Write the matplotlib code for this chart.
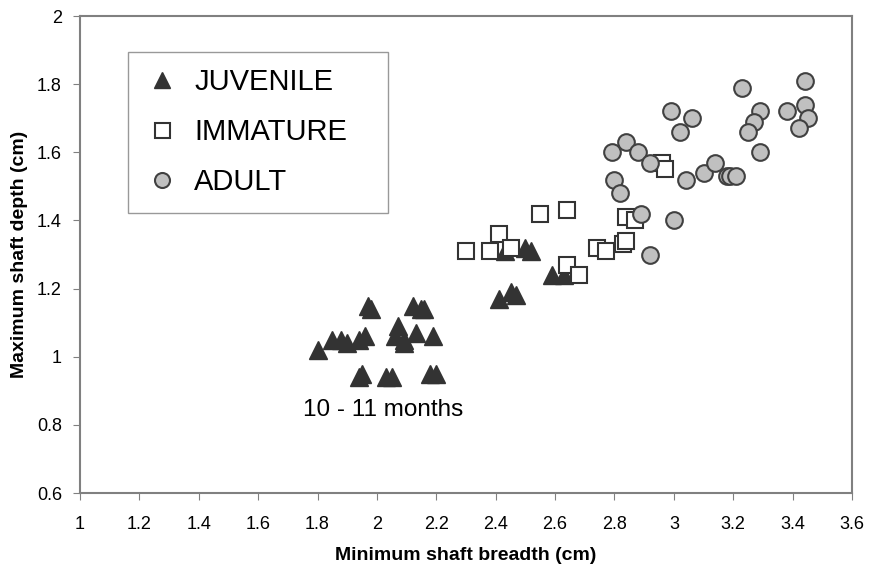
import matplotlib.pyplot as plt

plt.rcParams['font.family'] = ['Liberation Sans', 'DejaVu Sans']

# juvenile
juv_x = [1.80, 1.85, 1.88, 1.90, 1.94, 1.96, 1.97, 1.98, 2.06, 2.07, 2.09, 2.09,
         2.12, 2.13, 2.15, 2.16, 2.19, 1.94, 1.95, 2.03, 2.05, 2.18, 2.20,
         2.43, 2.50, 2.52, 2.59, 2.63, 2.41, 2.45, 2.47]
juv_y = [1.02, 1.05, 1.05, 1.04, 1.05, 1.06, 1.15, 1.14, 1.06, 1.09, 1.05, 1.04,
         1.15, 1.07, 1.14, 1.14, 1.06, 0.94, 0.95, 0.94, 0.94, 0.95, 0.95,
         1.31, 1.32, 1.31, 1.24, 1.24, 1.17, 1.19, 1.18]

# immature
imm_x = [2.30, 2.38, 2.41, 2.45, 2.55, 2.64, 2.64, 2.68, 2.74, 2.77, 2.83, 2.84,
         2.84, 2.87, 2.96, 2.97]
imm_y = [1.31, 1.31, 1.36, 1.32, 1.42, 1.43, 1.27, 1.24, 1.32, 1.31, 1.33, 1.34,
         1.41, 1.40, 1.57, 1.55]

# adult
ad_x = [3.23, 3.44, 2.99, 3.06, 3.02, 3.29, 3.27, 3.25, 3.38, 3.44, 3.45, 3.42,
        3.29, 2.79, 2.84, 2.88, 2.92, 3.04, 3.10, 3.14, 3.18, 3.19, 3.21,
        2.80, 2.82, 2.89, 3.00, 2.92]
ad_y = [1.79, 1.81, 1.72, 1.70, 1.66, 1.72, 1.69, 1.66, 1.72, 1.74, 1.70, 1.67,
        1.60, 1.60, 1.63, 1.60, 1.57, 1.52, 1.54, 1.57, 1.53, 1.53, 1.53,
        1.52, 1.48, 1.42, 1.40, 1.30]

fig = plt.figure(figsize=(8.73, 5.73), dpi=100)
ax = fig.add_axes([0.0916, 0.1396, 0.8844, 0.8324])

ax.plot(juv_x, juv_y, '^', ms=13, color='#333333', mec='#333333', ls='none',
        label='JUVENILE')
ax.plot(imm_x, imm_y, 's', ms=12, mfc='white', mec='#333333', mew=1.5, ls='none',
        label='IMMATURE')
ax.plot(ad_x, ad_y, 'o', ms=12, mfc='#c0c0c0', mec='#404040', mew=1.5, ls='none',
        label='ADULT')

ax.set_xlim(1, 3.6)
ax.set_ylim(0.6, 2)
ax.set_xticks([1 + 0.2 * i for i in range(14)])
ax.set_xticklabels(['1', '1.2', '1.4', '1.6', '1.8', '2', '2.2', '2.4', '2.6', '2.8',
                    '3', '3.2', '3.4', '3.6'])
ax.set_yticks([0.6, 0.8, 1, 1.2, 1.4, 1.6, 1.8, 2])
ax.set_yticklabels(['0.6', '0.8', '1', '1.2', '1.4', '1.6', '1.8', '2'])
ax.tick_params(direction='out', length=5, labelsize=13, color='#808080')
ax.tick_params(axis='x', pad=11.5)
ax.tick_params(axis='y', pad=8)
for s in ax.spines.values():
    s.set_color('#808080')
    s.set_linewidth(1.5)

ax.set_xlabel('Minimum shaft breadth (cm)', fontsize=14, fontweight='bold', labelpad=10)
ax.set_ylabel('Maximum shaft depth (cm)', fontsize=14, fontweight='bold', labelpad=6)

ax.text(2.02, 0.843, '10 - 11 months', fontsize=17.5, ha='center', va='center')

leg = ax.legend(loc='upper left', bbox_to_anchor=(0.062, 0.58, 0.337, 0.345),
                mode='expand', fontsize=21, frameon=True, fancybox=False,
                edgecolor='#808080', markerscale=0.9, handletextpad=0.5,
                labelspacing=0.75, borderpad=0.57, handlelength=1.2,
                borderaxespad=0)
leg.get_frame().set_linewidth(1.0)

fig.savefig('out.png', dpi=100)
